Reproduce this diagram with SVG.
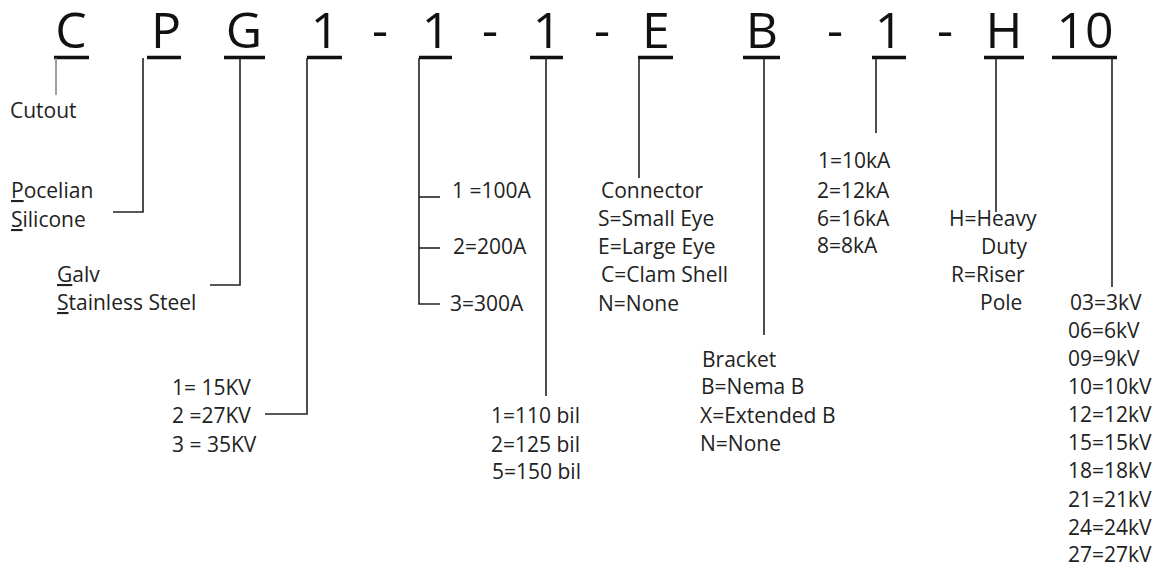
<svg xmlns="http://www.w3.org/2000/svg" width="1166" height="565" viewBox="0 0 1166 565">
<style>
.code{font-family:"Open Sans",sans-serif;font-size:50px;fill:#111;text-anchor:middle}
.lbl{font-family:"Open Sans",sans-serif;font-size:21px;fill:#222}
.u{text-decoration:underline}
.ul{stroke:#111;stroke-width:3.5;fill:none}
.ln{stroke:#222;stroke-width:1.6;fill:none}
.lg{stroke:#888;stroke-width:1.6;fill:none}
</style>
<rect width="1166" height="565" fill="#fff"/>
<g id="code">
<text class="code" x="71" y="48">C</text>
<text class="code" x="166" y="48">P</text>
<text class="code" x="244" y="48">G</text>
<text class="code" x="325" y="48">1</text>
<text class="code" x="380" y="48">-</text>
<text class="code" x="436" y="48">1</text>
<text class="code" x="490" y="48">-</text>
<text class="code" x="547" y="48">1</text>
<text class="code" x="602" y="48">-</text>
<text class="code" x="656" y="48">E</text>
<text class="code" x="762" y="48">B</text>
<text class="code" x="835" y="48">-</text>
<text class="code" x="889" y="48">1</text>
<text class="code" x="945" y="48">-</text>
<text class="code" x="1004" y="48">H</text>
<text class="code" x="1085" y="48">10</text>
<line class="ul" x1="54" y1="57.5" x2="89" y2="57.5"/>
<line class="ul" x1="147" y1="57.5" x2="181" y2="57.5"/>
<line class="ul" x1="224" y1="57.5" x2="265" y2="57.5"/>
<line class="ul" x1="307" y1="57.5" x2="342" y2="57.5"/>
<line class="ul" x1="419" y1="57.5" x2="452" y2="57.5"/>
<line class="ul" x1="530" y1="57.5" x2="563" y2="57.5"/>
<line class="ul" x1="638" y1="57.5" x2="673" y2="57.5"/>
<line class="ul" x1="743" y1="57.5" x2="780" y2="57.5"/>
<line class="ul" x1="872" y1="57.5" x2="906" y2="57.5"/>
<line class="ul" x1="984" y1="57.5" x2="1024" y2="57.5"/>
<line class="ul" x1="1052" y1="57.5" x2="1117" y2="57.5"/>
</g>
<g id="connectors">
<polyline class="lg" points="56,58 56,95"/>
<polyline class="ln" points="143,58 143,212 113,212"/>
<polyline class="ln" points="240,58 240,285 210,285"/>
<polyline class="ln" points="307,58 307,414 265,414"/>
<polyline class="ln" points="419,58 419,304 440,304"/>
<line class="ln" x1="419" y1="197" x2="440" y2="197"/>
<line class="ln" x1="419" y1="248" x2="440" y2="248"/>
<polyline class="ln" points="546,58 546,396"/>
<polyline class="ln" points="639,58 639,178"/>
<polyline class="ln" points="764,58 764,335"/>
<polyline class="ln" points="876,58 876,133"/>
<polyline class="ln" points="996,58 996,212"/>
<polyline class="ln" points="1112,58 1112,287"/>
</g>
<g id="cutout"><text class="lbl" x="10" y="118">Cutout</text></g>
<g id="insulator">
<text class="lbl" x="11" y="198"><tspan class="u">P</tspan>ocelian</text>
<text class="lbl" x="11" y="227"><tspan class="u">S</tspan>ilicone</text>
</g>
<g id="hardware">
<text class="lbl" x="57" y="282"><tspan class="u">G</tspan>alv</text>
<text class="lbl" x="57" y="310"><tspan class="u">S</tspan>tainless Steel</text>
</g>
<g id="voltage">
<text class="lbl" x="172" y="395">1= 15KV</text>
<text class="lbl" x="172" y="423">2 =27KV</text>
<text class="lbl" x="172" y="452">3 = 35KV</text>
</g>
<g id="current">
<text class="lbl" x="452" y="198">1 =100A</text>
<text class="lbl" x="453" y="254">2=200A</text>
<text class="lbl" x="450" y="311">3=300A</text>
</g>
<g id="bil">
<text class="lbl" x="491" y="423">1=110 bil</text>
<text class="lbl" x="491" y="452">2=125 bil</text>
<text class="lbl" x="492" y="479">5=150 bil</text>
</g>
<g id="connector">
<text class="lbl" x="601" y="198">Connector</text>
<text class="lbl" x="598" y="226">S=Small Eye</text>
<text class="lbl" x="598" y="254">E=Large Eye</text>
<text class="lbl" x="601" y="282">C=Clam Shell</text>
<text class="lbl" x="598" y="311">N=None</text>
</g>
<g id="bracket">
<text class="lbl" x="702" y="367">Bracket</text>
<text class="lbl" x="701" y="394">B=Nema B</text>
<text class="lbl" x="700" y="423">X=Extended B</text>
<text class="lbl" x="700" y="451">N=None</text>
</g>
<g id="interrupt">
<text class="lbl" x="818" y="168">1=10kA</text>
<text class="lbl" x="817" y="198">2=12kA</text>
<text class="lbl" x="817" y="226">6=16kA</text>
<text class="lbl" x="817" y="253">8=8kA</text>
</g>
<g id="duty">
<text class="lbl" x="949" y="226">H=Heavy</text>
<text class="lbl" x="981" y="254">Duty</text>
<text class="lbl" x="951" y="282">R=Riser</text>
<text class="lbl" x="980" y="310">Pole</text>
</g>
<g id="kv">
<text class="lbl" x="1070" y="310">03=3kV</text>
<text class="lbl" x="1068" y="338">06=6kV</text>
<text class="lbl" x="1068" y="366">09=9kV</text>
<text class="lbl" x="1068" y="394">10=10kV</text>
<text class="lbl" x="1068" y="422">12=12kV</text>
<text class="lbl" x="1068" y="450">15=15kV</text>
<text class="lbl" x="1068" y="478">18=18kV</text>
<text class="lbl" x="1068" y="507">21=21kV</text>
<text class="lbl" x="1068" y="535">24=24kV</text>
<text class="lbl" x="1068" y="562">27=27kV</text>
</g>
</svg>
